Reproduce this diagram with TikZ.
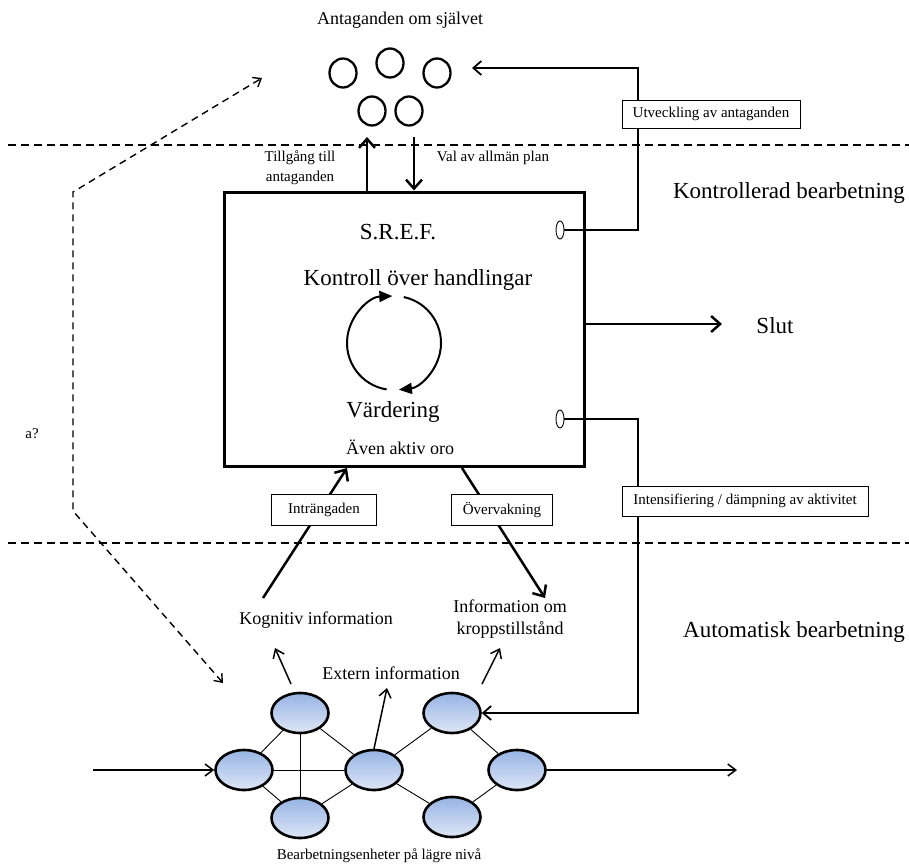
\documentclass[tikz,border=0pt]{standalone}
\usepackage{fontspec}
\setmainfont{Liberation Serif}
\usetikzlibrary{arrows.meta,shapes.geometric}
\definecolor{nettop}{RGB}{150,180,228}
\definecolor{netbot}{RGB}{222,230,246}
\tikzset{
  lbl/.style={inner sep=0pt, font=\fontsize{15}{20}\selectfont, align=center},
  mid/.style={inner sep=0pt, font=\fontsize{18}{22}\selectfont, align=center},
  big/.style={inner sep=0pt, font=\fontsize{23}{27}\selectfont},
  tagbox/.style={draw, fill=white, line width=0.9pt, inner sep=0pt, font=\fontsize{15}{18}\selectfont},
  assum/.style={draw, ellipse, line width=2.3pt, minimum width=27pt, minimum height=29pt, inner sep=0pt},
  port/.style={draw, ellipse, line width=0.9pt, fill=white, minimum width=8pt, minimum height=18pt, inner sep=0pt},
  unit/.style={draw, ellipse, line width=2.6pt, minimum width=57pt, minimum height=40pt, inner sep=0pt, top color=nettop, bottom color=netbot},
  sep/.style={dashed, line width=1.8pt, dash pattern=on 8pt off 5pt},
  boldarrow/.style={line width=2.5pt, -{Straight Barb[length=9pt,width=16pt]}},
  wire/.style={line width=1.8pt},
  wirearrow/.style={line width=1.8pt, -{Straight Barb[length=8pt,width=14pt]}},
  thinarrow/.style={line width=1.5pt, -{Straight Barb[length=8pt,width=12pt]}},
  link/.style={line width=0.9pt},
  dasharrow/.style={line width=1.4pt, dash pattern=on 7pt off 5pt, {Straight Barb[length=7pt,width=11pt]}-{Straight Barb[length=7pt,width=11pt]}},
  cyclearrow/.style={line width=2pt, -{Triangle[length=13pt,width=11pt]}}
}
\begin{document}
\begin{tikzpicture}[x=1pt,y=-1pt]
\useasboundingbox (0,0) rectangle (909,864);

% separators
\coordinate (s1a) at (8,145); \coordinate (s1b) at (909,145);
\coordinate (s2a) at (8,543); \coordinate (s2b) at (909,543);
\draw[sep] (s1a) -- (s1b);
\draw[sep] (s2a) -- (s2b);

% assumptions
\node[mid] (title) at (400,20) {Antaganden om självet};
\node[assum] (c1) at (343,73) {};
\node[assum] (c2) at (390,63) {};
\node[assum] (c3) at (437,73) {};
\node[assum] (c4) at (372,111) {};
\node[assum] (c5) at (409,111) {};

% main box
\node[draw, line width=3pt, minimum width=360pt, minimum height=274pt, inner sep=0pt] (box) at (404,329) {};
\node[big] (sref) at (398,232) {S.R.E.F.};
\node[big] (ctrl) at (418,280) {Kontroll över handlingar};
\node[big] (vard) at (393,412) {Värdering};
\node[mid] (oro) at (400,447) {Även aktiv oro};
\coordinate (cyc) at (394,343);
\draw[cyclearrow] (cyc) ++(99:47) arc[start angle=99, end angle=268, radius=47];
\draw[cyclearrow] (cyc) ++(282:47) arc[start angle=282, end angle=444, radius=47];

% access / plan
\coordinate (ta) at (367,137);
\coordinate (va) at (414,137);
\draw[boldarrow] (box.north -| ta) -- (ta);
\draw[boldarrow] (va) -- (box.north -| va);
\node[lbl] (till) at (300,168) {Tillgång till\\antaganden};
\node[lbl] (val) at (493,158) {Val av allmän plan};

% ports
\node[port] (p1) at (560,230) {};
\node[port] (p2) at (560,419) {};

% development of assumptions
\coordinate (u1) at (638,68);
\coordinate (u2) at (472,68);
\draw[wirearrow] (p1.east) -| (u1) -- (u2);
\node[tagbox, minimum width=178pt, minimum height=28pt] (utv) at (711,114) {Utveckling av antaganden};

% slut
\coordinate (sl) at (722,324);
\draw[boldarrow] (box.east |- sl) -- (sl);
\node[big] (slut) at (775,326) {Slut};

\node[big] (kontr) at (789,193) {Kontrollerad bearbetning};
\node[big] (autom) at (794,632) {Automatisk bearbetning};

% network
\node[unit] (tl) at (300,713) {};
\node[unit] (l)  at (244,770) {};
\node[unit] (bl) at (300,818) {};
\node[unit] (c)  at (374,770) {};
\node[unit] (tr) at (452,713) {};
\node[unit] (r)  at (517,770) {};
\node[unit] (br) at (452,817) {};
\draw[link] (tl) -- (l);
\draw[link] (tl) -- (c);
\draw[link] (tl) -- (bl);
\draw[link] (l) -- (c);
\draw[link] (l) -- (bl);
\draw[link] (bl) -- (c);
\draw[link] (c) -- (tr);
\draw[link] (c) -- (br);
\draw[link] (tr) -- (r);
\draw[link] (br) -- (r);

% intensify
\coordinate (d1) at (638,713);
\draw[wirearrow] (p2.east) -| (d1) -- (tr.east);
\node[tagbox, minimum width=246pt, minimum height=30pt] (ints) at (745,501) {Intensifiering / dämpning av aktivitet};

% intrusions / monitoring
\coordinate (ki) at (263,598);
\coordinate (kb) at (347,468);
\coordinate (ob) at (462,468);
\coordinate (oi) at (545,598);
\draw[boldarrow] (ki) -- (kb);
\draw[boldarrow] (ob) -- (oi);
\node[tagbox, minimum width=105pt, minimum height=31pt] (intr) at (324,510) {Inträngaden};
\node[tagbox, minimum width=101pt, minimum height=31pt] (overv) at (502,510) {Övervakning};

\node[mid] (kogn) at (316,620) {Kognitiv information};
\node[mid] (kropp) at (510,619) {Information om\\kroppstillstånd};
\node[mid] (ext) at (391,673) {Extern information};

% network outputs
\coordinate (k1s) at (291,684);
\coordinate (k1e) at (275,648);
\coordinate (k2s) at (482,684);
\coordinate (k2e) at (500,648);
\coordinate (ee) at (387,688);
\draw[thinarrow] (k1s) -- (k1e);
\draw[thinarrow] (k2s) -- (k2e);
\draw[thinarrow] (c.north) -- (ee);

\coordinate (inp) at (93,770);
\coordinate (outp) at (737,770);
\draw[thinarrow] (inp) -- (l.west);
\draw[thinarrow] (r.east) -- (outp);

\node[lbl] (lower) at (379,856) {Bearbetningsenheter på lägre nivå};

% dashed feedback
\coordinate (da) at (223,683);
\coordinate (db) at (73,511);
\coordinate (dc) at (73,192);
\coordinate (dd) at (262,78);
\draw[dasharrow] (da) -- (db) -- (dc) -- (dd);
\node[lbl] (aq) at (32,434) {a?};
\end{tikzpicture}
\end{document}
